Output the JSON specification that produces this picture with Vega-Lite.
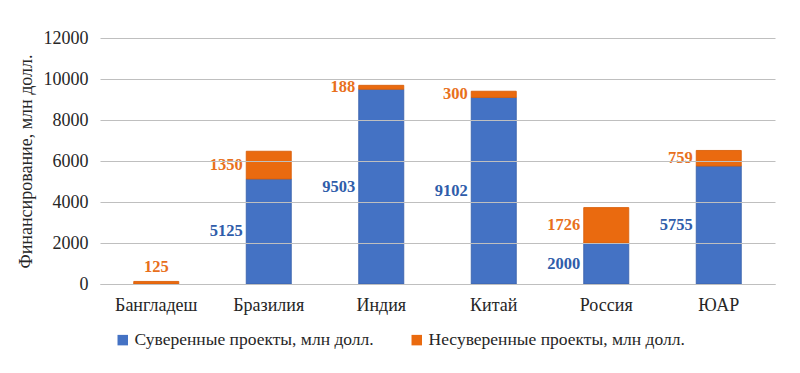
{
  "$schema": "https://vega.github.io/schema/vega-lite/v6.json",
  "width": 675,
  "height": 246,
  "autosize": {"type": "none"},
  "padding": {"left": 100, "top": 38, "right": 25, "bottom": 89},
  "background": "white",
  "config": {
    "font": "Liberation Serif",
    "view": {"stroke": null},
    "axis": {"labelFont": "Liberation Serif", "titleFont": "Liberation Serif", "labelColor": "#262626", "titleColor": "#262626"},
    "legend": {"labelFont": "Liberation Serif"}
  },
  "data": {
    "values": [
      {"country": "Бангладеш", "type": "Несуверенные проекты, млн долл.", "value": 125},
      {"country": "Бразилия", "type": "Суверенные проекты, млн долл.", "value": 5125},
      {"country": "Бразилия", "type": "Несуверенные проекты, млн долл.", "value": 1350},
      {"country": "Индия", "type": "Суверенные проекты, млн долл.", "value": 9503},
      {"country": "Индия", "type": "Несуверенные проекты, млн долл.", "value": 188},
      {"country": "Китай", "type": "Суверенные проекты, млн долл.", "value": 9102},
      {"country": "Китай", "type": "Несуверенные проекты, млн долл.", "value": 300},
      {"country": "Россия", "type": "Суверенные проекты, млн долл.", "value": 2000},
      {"country": "Россия", "type": "Несуверенные проекты, млн долл.", "value": 1726},
      {"country": "ЮАР", "type": "Суверенные проекты, млн долл.", "value": 5755},
      {"country": "ЮАР", "type": "Несуверенные проекты, млн долл.", "value": 759}
    ]
  },
  "transform": [
    {"stack": "value", "groupby": ["country"], "sort": [{"field": "type", "order": "descending"}], "as": ["v0", "v1"]},
    {"calculate": "(datum.v0 + datum.v1) / 2", "as": "vmid"}
  ],
  "encoding": {
    "x": {
      "field": "country", "type": "nominal",
      "sort": ["Бангладеш", "Бразилия", "Индия", "Китай", "Россия", "ЮАР"],
      "scale": {"paddingInner": 0.6, "paddingOuter": 0.3},
      "axis": {"title": null, "labelAngle": 0, "labelFont": "Liberation Serif", "labelFontSize": 18, "labelColor": "#262626", "labelPadding": 12, "ticks": false, "domainColor": "#bfbfbf", "domainWidth": 1}
    }
  },
  "layer": [
    {
      "mark": {"type": "bar", "strokeWidth": 1, "strokeOpacity": 0.9},
      "encoding": {
        "y": {
          "field": "v1", "type": "quantitative",
          "scale": {"domain": [0, 12000]},
          "axis": {
            "title": "Финансирование, млн долл.", "titleFont": "Liberation Serif", "titleFontSize": 18, "titleFontWeight": "normal", "titlePadding": 8, "titleColor": "#262626",
            "labelFont": "Liberation Serif", "labelFontSize": 18, "labelColor": "#262626", "labelPadding": 12, "format": "d", "labelOverlap": false,
            "values": [0, 2000, 4000, 6000, 8000, 10000, 12000],
            "ticks": false, "domain": false, "gridColor": "#bfbfbf", "gridWidth": 1, "zindex": 1
          }
        },
        "y2": {"field": "v0"},
        "color": {
          "field": "type", "type": "nominal",
          "scale": {"domain": ["Суверенные проекты, млн долл.", "Несуверенные проекты, млн долл."], "range": ["#4472C4", "#EA6A0F"]},
          "legend": {
            "title": null, "orient": "none", "legendX": 14, "legendY": 293, "direction": "horizontal",
            "symbolType": "square", "symbolSize": 110, "symbolStrokeWidth": 0, "labelFontSize": 17.5, "labelColor": "#262626",
            "labelFont": "Liberation Serif", "labelLimit": 400, "columnPadding": 34, "labelOffset": 3
          }
        },
        "stroke": {
          "field": "type", "type": "nominal",
          "scale": {"domain": ["Суверенные проекты, млн долл.", "Несуверенные проекты, млн долл."], "range": ["#3a63ad", "#d9600c"]},
          "legend": null
        }
      }
    },
    {
      "transform": [{"filter": "datum.country != 'Бангладеш'"}],
      "mark": {"type": "text", "align": "right", "baseline": "middle", "dx": -26, "font": "Liberation Serif", "fontSize": 16.5, "fontWeight": "bold"},
      "encoding": {
        "y": {"field": "vmid", "type": "quantitative"},
        "text": {"field": "value", "type": "quantitative", "format": "d"},
        "color": {
          "field": "type", "type": "nominal",
          "scale": {"domain": ["Суверенные проекты, млн долл.", "Несуверенные проекты, млн долл."], "range": ["#2F5DAA", "#E8701C"]},
          "legend": null
        }
      }
    },
    {
      "transform": [{"filter": "datum.country == 'Бангладеш'"}],
      "mark": {"type": "text", "align": "center", "baseline": "bottom", "dy": -6, "font": "Liberation Serif", "fontSize": 16.5, "fontWeight": "bold", "color": "#E8701C"},
      "encoding": {
        "y": {"field": "v1", "type": "quantitative"},
        "text": {"field": "value", "type": "quantitative", "format": "d"}
      }
    }
  ],
  "resolve": {"scale": {"color": "independent"}}
}
